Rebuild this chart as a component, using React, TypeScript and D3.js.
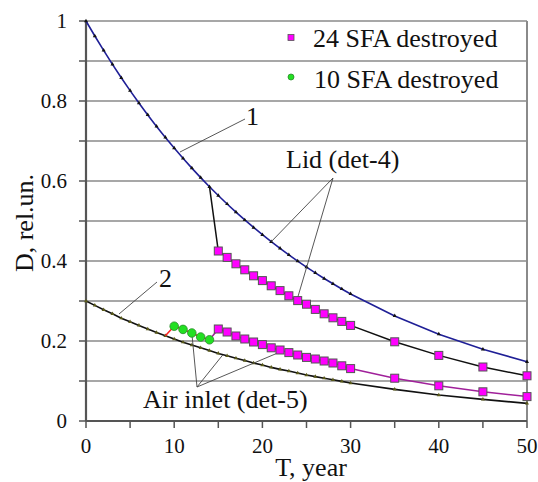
import React from "react";
import * as d3 from "d3";

const years = [0,1,2,3,4,5,6,7,8,9,10,11,12,13,14,15,16,17,18,19,20,21,22,23,24,25,26,27,28,29,30,35,40,45,50];
const curve1 = [1.000,0.9625,0.9264,0.8917,0.8582,0.8260,0.7950,0.7652,0.7365,0.7089,0.6825,0.6568,0.6322,0.6085,0.5857,0.5637,0.5426,0.5222,0.5026,0.4838,0.4657,0.4482,0.4314,0.4152,0.3996,0.3846,0.3702,0.3563,0.3430,0.3301,0.3177,0.2627,0.2171,0.1794,0.1481];
const curve2 = [0.300,0.289,0.278,0.268,0.257,0.248,0.239,0.230,0.221,0.213,0.205,0.197,0.190,0.183,0.176,0.169,0.163,0.157,0.151,0.145,0.140,0.134,0.129,0.125,0.120,0.115,0.111,0.107,0.103,0.099,0.095,0.079,0.065,0.054,0.044];

const sfa24Years = [15,16,17,18,19,20,21,22,23,24,25,26,27,28,29,30,35,40,45,50];
const lid24 = [0.425,0.409,0.393,0.378,0.363,0.351,0.338,0.326,0.313,0.301,0.292,0.279,0.268,0.258,0.249,0.239,0.198,0.164,0.135,0.113];
const air24 = [0.230,0.2225,0.2125,0.205,0.1975,0.191,0.183,0.1775,0.171,0.165,0.159,0.155,0.150,0.145,0.138,0.131,0.107,0.088,0.073,0.061];

const sfa10Years = [10,11,12,13,14];
const air10 = [0.237,0.229,0.220,0.210,0.203];

const xTicks = [0,5,10,15,20,25,30,35,40,45,50];
const xLabels = [0,10,20,30,40,50];
const yTicks = [0,0.1,0.2,0.3,0.4,0.5,0.6,0.7,0.8,0.9,1];
const yLabels = [0,0.2,0.4,0.6,0.8,1];

const FONT = '"Liberation Serif", "DejaVu Serif", "Times New Roman", serif';
const ts: React.CSSProperties = { fontFamily: FONT };

export default function App() {
  const left = 86, right = 527, top = 21, bottom = 421;
  const x = d3.scaleLinear().domain([0, 50]).range([left, right]);
  const y = d3.scaleLinear().domain([0, 1]).range([bottom, top]);
  const line = d3.line<[number, number]>().x(d => x(d[0])).y(d => y(d[1]));
  const tri = d3.symbol().type(d3.symbolTriangle).size(7)();

  const c1: [number, number][] = years.map((t, i) => [t, curve1[i]]);
  const c2: [number, number][] = years.map((t, i) => [t, curve2[i]]);
  const i14 = years.indexOf(14);
  const i9 = years.indexOf(9);
  const lidPts: [number, number][] = [[14, curve1[i14]], ...sfa24Years.map((t, i) => [t, lid24[i]] as [number, number])];
  const redPts: [number, number][] = [[9, curve2[i9]], ...sfa10Years.map((t, i) => [t, air10[i]] as [number, number])];
  const airPts: [number, number][] = [[14, air10[air10.length - 1]], ...sfa24Years.map((t, i) => [t, air24[i]] as [number, number])];

  const sq = 8;
  const big = 26;

  return (
    <svg width={538} height={482} style={{ position: "absolute", left: 0, top: 0, background: "#fff", fontFamily: FONT }}>
      <rect x={0} y={0} width={538} height={482} fill="#fff" />
      {yTicks.map(v => (
        <line key={"g" + v} x1={left} x2={right} y1={y(v)} y2={y(v)} stroke="#8a8a8a" strokeWidth={1.5} />
      ))}
      <line x1={right} x2={right} y1={top} y2={bottom} stroke="#8a8a8a" strokeWidth={2} />
      <line x1={left} x2={left} y1={top} y2={bottom} stroke="#555" strokeWidth={2.2} />
      <line x1={left} x2={right} y1={bottom} y2={bottom} stroke="#555" strokeWidth={2.2} />
      {yTicks.map(v => (
        <line key={"yt" + v} x1={left - 7} x2={left} y1={y(v)} y2={y(v)} stroke="#555" strokeWidth={1.5} />
      ))}
      {xTicks.map(v => (
        <line key={"xt" + v} x1={x(v)} x2={x(v)} y1={bottom} y2={bottom + 7} stroke="#555" strokeWidth={1.5} />
      ))}
      {yLabels.map(v => (
        <text key={"yl" + v} style={ts} x={67} y={y(v)} dy="0.35em" textAnchor="end" fontSize={21} fill="#111">{String(v)}</text>
      ))}
      {xLabels.map(v => (
        <text key={"xl" + v} style={ts} x={x(v)} y={453} textAnchor="middle" fontSize={21} fill="#111">{String(v)}</text>
      ))}
      <text style={ts} x={311} y={476} textAnchor="middle" fontSize={big} fill="#111">T, year</text>
      <text style={ts} transform="translate(33,223) rotate(-90)" textAnchor="middle" fontSize={big} fill="#111">D, rel.un.</text>

      <path d={line(c1) || ""} fill="none" stroke="#1f1f96" strokeWidth={1.6} />
      {c1.map((p, i) => (
        <path key={"m1" + i} d={tri} transform={`translate(${x(p[0])},${y(p[1])})`} fill="#111" />
      ))}
      <path d={line(c2) || ""} fill="none" stroke="#111" strokeWidth={1.6} />
      {c2.map((p, i) => (
        <path key={"m2" + i} d={tri} transform={`translate(${x(p[0])},${y(p[1])})`} fill="#5a5a1a" />
      ))}

      <path d={line(lidPts) || ""} fill="none" stroke="#111" strokeWidth={1.5} />
      <path d={line(redPts) || ""} fill="none" stroke="#ff2020" strokeWidth={1.5} />
      <path d={line(airPts) || ""} fill="none" stroke="#a0209a" strokeWidth={1.5} />

      <g stroke="#444" strokeWidth={0.9}>
        <line x1={180} y1={152} x2={245} y2={119} />
        <line x1={119} y1={314} x2={157} y2={282} />
        <line x1={333} y1={178} x2={x(21)} y2={y(curve1[years.indexOf(21)])} />
        <line x1={333} y1={178} x2={x(24)} y2={y(lid24[sfa24Years.indexOf(24)]) - 3} />
        <line x1={197} y1={387} x2={x(12)} y2={y(air10[2])} />
        <line x1={197} y1={387} x2={222.7} y2={355} />
        <line x1={197} y1={387} x2={x(22)} y2={y(air24[sfa24Years.indexOf(22)]) + 2} />
      </g>

      {sfa24Years.map((t, i) => (
        <rect key={"l" + t} x={x(t) - sq / 2} y={y(lid24[i]) - sq / 2} width={sq} height={sq} fill="#ff00ff" stroke="#555" strokeWidth={1} />
      ))}
      {sfa24Years.map((t, i) => (
        <rect key={"a" + t} x={x(t) - sq / 2} y={y(air24[i]) - sq / 2} width={sq} height={sq} fill="#ff00ff" stroke="#555" strokeWidth={1} />
      ))}
      {sfa10Years.map((t, i) => (
        <circle key={"g" + t} cx={x(t)} cy={y(air10[i])} r={4.3} fill="#22e022" stroke="#2a8a2a" strokeWidth={0.8} />
      ))}

      <text style={ts} x={246} y={125} fontSize={big} fill="#111">1</text>
      <text style={ts} x={159} y={287} fontSize={big} fill="#111">2</text>
      <text style={ts} x={286} y={168} fontSize={big} fill="#111">Lid (det-4)</text>
      <text style={ts} x={143} y={408} fontSize={big} fill="#111">Air inlet (det-5)</text>

      <rect x={288} y={34.5} width={6} height={6} fill="#ff00ff" stroke="#555" strokeWidth={0.8} />
      <text style={ts} x={313} y={47} fontSize={big} fill="#111">24 SFA destroyed</text>
      <circle cx={291} cy={77} r={3} fill="#22e022" stroke="#2a8a2a" strokeWidth={0.8} />
      <text style={ts} x={314} y={88} fontSize={big} fill="#111">10 SFA destroyed</text>
    </svg>
  );
}
